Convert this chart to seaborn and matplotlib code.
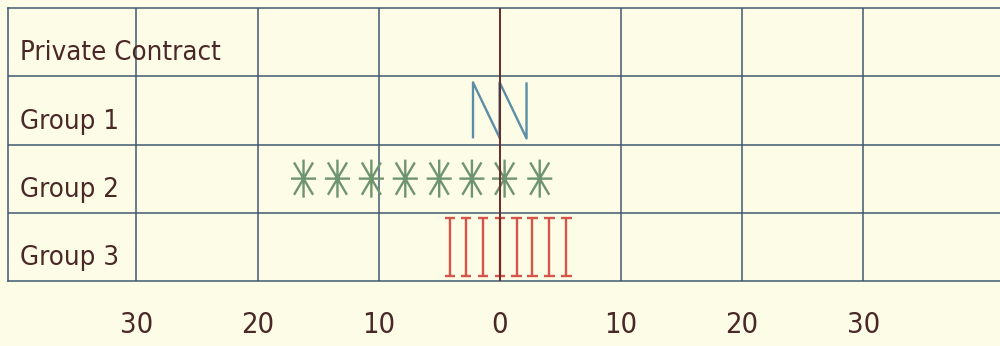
import numpy as np
import pandas as pd
import matplotlib
matplotlib.use("Agg")
import matplotlib.pyplot as plt
from matplotlib.path import Path
from matplotlib import font_manager as fm
import seaborn as sns

# ---- data ----
rows = ["Private Contract", "Group 1", "Group 2", "Group 3"]
group1_x = [-1.1, 1.1]
group2_x = [-16.2, -13.4, -10.6, -7.8, -5.0, -2.3, 0.4, 3.3]
group3_x = [-4.1, -2.8, -1.4, 0.0, 1.4, 2.7, 4.1, 5.5]
xtick_values = [-30, -20, -10, 0, 10, 20, 30]
xtick_labels = ["30", "20", "10", "0", "10", "20", "30"]

# ---- style ----
BG = "#fdfce6"
GRID = "#3f5a72"
ZERO = "#6b2a2a"
TEXT = "#4a2828"
COL_N = "#5b8ea6"
COL_AST = "#6f9470"
COL_I = "#d4554a"

sns.set_theme(style="white", rc={"axes.facecolor": BG, "figure.facecolor": BG})
plt.rcParams["font.family"] = ["DejaVu Sans"]

# pick a narrow font if one is installed
def pick_narrow_font():
    cands = []
    for f in fm.fontManager.ttflist:
        nm = (f.name + " " + f.fname).lower()
        narrow = ("narrow" in nm or "condensed" in nm or
                  f.stretch in ("condensed", "semi-condensed", "extra-condensed"))
        if narrow and f.style == "normal" and f.weight in (400, "normal", "regular", "book"):
            score = 0 if "liberation" in nm else (1 if "dejavu" in nm else 2)
            if "extra" in nm or "ultra" in nm or "semi" in nm:
                score += 3
            cands.append((score, f.fname))
    if cands:
        cands.sort()
        return fm.FontProperties(fname=cands[0][1])
    return fm.FontProperties(family="DejaVu Sans")

base_fp = pick_narrow_font()

M, L = Path.MOVETO, Path.LINETO
marker_N = Path([(-0.48, -1), (-0.48, 1), (0.48, -1), (0.48, 1)], [M, L, L, L])
marker_ast = Path(
    [(-0.66, 0), (0.66, 0), (0, -1), (0, 1),
     (-0.5, -0.85), (0.5, 0.85), (-0.5, 0.85), (0.5, -0.85)],
    [M, L, M, L, M, L, M, L])
marker_I = Path(
    [(0, -1), (0, 1), (-0.18, 1), (0.18, 1), (-0.18, -1), (0.18, -1)],
    [M, L, M, L, M, L])

frames = []
for name, xs in [("Group 1", group1_x), ("Group 2", group2_x), ("Group 3", group3_x)]:
    frames.append(pd.DataFrame({"group": name, "x": xs, "y": rows.index(name)}))
df = pd.concat(frames, ignore_index=True)

fig = plt.figure(figsize=(10, 3.46), dpi=100)
ax = fig.add_axes([0.008, 1 - 281 / 346, 0.992, (281 - 8) / 346])

styles = {
    "Group 1": (marker_N, 1625, COL_N),
    "Group 2": (marker_ast, 750, COL_AST),
    "Group 3": (marker_I, 1750, COL_I),
}
for g, (mk, s, col) in styles.items():
    sub = df[df["group"] == g]
    n_before = len(ax.collections)
    sns.scatterplot(data=sub, x="x", y="y", marker=mk, s=s, ax=ax, legend=False, zorder=4)
    coll = ax.collections[n_before]
    coll.set_facecolor("none")
    coll.set_edgecolor(col)
    coll.set_linewidth(1.7)

ax.set_xlim(-40.6, 41.3)
ax.set_ylim(3.5, -0.5)
ax.set_xlabel("")
ax.set_ylabel("")

# font sizes fitted to the reference text widths
renderer = fig.canvas.get_renderer()
def fitted_size(s, target_px):
    fp = base_fp.copy()
    fp.set_size(20)
    t = fig.text(0, 0, s, fontproperties=fp)
    w = t.get_window_extent(renderer).width
    t.remove()
    return 20 * target_px / w

row_size = fitted_size("Private Contract", 200)
tick_size = fitted_size("30", 33)

# x axis: gridlines + ticks
ax.set_xticks(xtick_values)
ax.set_xticklabels(xtick_labels)
ax.tick_params(axis="x", direction="out", length=10.8, width=1.1, color=GRID,
               labelcolor=TEXT, pad=11)
fp_tick = base_fp.copy()
fp_tick.set_size(tick_size)
for lbl in ax.get_xticklabels():
    lbl.set_fontproperties(fp_tick)
ax.grid(axis="x", which="major", color=GRID, linewidth=1.1, zorder=1)
for t, v in zip(ax.xaxis.get_major_ticks(), xtick_values):
    if v == 0:
        t.tick1line.set_color(ZERO)
        t.gridline.set_visible(False)
ax.axvline(0, color=ZERO, linewidth=1.4, zorder=5)

# y axis: row labels inside plot, row separators as minor grid
ax.set_yticks(np.arange(len(rows)) + 0.12)
ax.set_yticklabels(rows)
ax.set_yticks(np.arange(len(rows) - 1) + 0.5, minor=True)
ax.tick_params(axis="y", which="both", length=0, pad=-8.6, labelcolor=TEXT)
fp_row = base_fp.copy()
fp_row.set_size(row_size)
for lbl in ax.get_yticklabels():
    lbl.set_fontproperties(fp_row)
    lbl.set_horizontalalignment("left")
ax.grid(axis="y", which="minor", color=GRID, linewidth=1.1, zorder=1)
ax.set_axisbelow(True)

for side in ["left", "top", "bottom"]:
    ax.spines[side].set_color(GRID)
    ax.spines[side].set_linewidth(1.1)
ax.spines["right"].set_visible(False)

fig.savefig("out.png", dpi=100, facecolor=BG)
